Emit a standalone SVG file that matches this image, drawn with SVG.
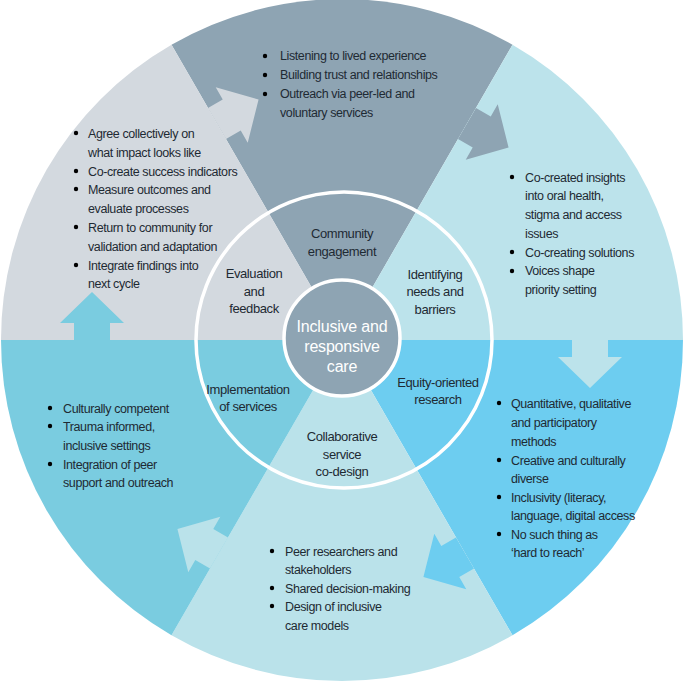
<svg xmlns="http://www.w3.org/2000/svg" width="685" height="681" viewBox="0 0 685 681">
<style>
text{font-family:"Liberation Sans",Arial,sans-serif;font-size:12.5px;letter-spacing:-0.4px;fill:#1e2a33}
.c{text-anchor:middle;font-size:13px}
.w{fill:#ffffff;font-size:16px;text-anchor:middle;letter-spacing:-0.2px}
</style>
<defs>
<path id="arr" d="M-18,0 L-18,-17 L-32,-17 L0,-48 L32,-17 L18,-17 L18,0 Z"/>
</defs>
<rect width="685" height="681" fill="#ffffff"/>
<g id="sectors">
<path d="M342,340 L171.5,44.7 A341,341 0 0 1 512.5,44.7 Z" fill="#8ea4b3"/>
<path d="M342,340 L512.5,44.7 A341,341 0 0 1 683,340 Z" fill="#bce3eb"/>
<path d="M342,340 L683,340 A341,341 0 0 1 512.5,635.3 Z" fill="#6dcdf0"/>
<path d="M342,340 L512.5,635.3 A341,341 0 0 1 171.5,635.3 Z" fill="#bae2ea"/>
<path d="M342,340 L171.5,635.3 A341,341 0 0 1 1,340 Z" fill="#7acce0"/>
<path d="M342,340 L1,340 A341,341 0 0 1 171.5,44.7 Z" fill="#d3d9df"/>
</g>
<g id="connectors">
<use href="#arr" transform="translate(92,340)" fill="#7acce0"/>
<use href="#arr" transform="translate(217,123.5) rotate(60)" fill="#d3d9df"/>
<use href="#arr" transform="translate(467,123.5) rotate(120)" fill="#8ea4b3"/>
<use href="#arr" transform="translate(590,340) rotate(180)" fill="#bce3eb"/>
<use href="#arr" transform="translate(465,553) rotate(240)" fill="#6dcdf0"/>
<use href="#arr" transform="translate(219,553) rotate(300)" fill="#bae2ea"/>
</g>
<circle cx="344" cy="340" r="148" fill="none" stroke="#ffffff" stroke-width="3.5"/>
<g id="center">
<circle cx="342" cy="338" r="58" fill="#8ea4b3" stroke="#ffffff" stroke-width="3.5"/>
<text class="w" x="342" y="332">Inclusive and</text>
<text class="w" x="342" y="352">responsive</text>
<text class="w" x="342" y="372">care</text>
</g>
<g id="community-engagement">
<text class="c" x="342" y="238">Community</text>
<text class="c" x="342" y="256">engagement</text>
<g transform="translate(265,0)">
<circle cx="0" cy="56" r="2.2"/><text x="15" y="60">Listening to lived experience</text>
<circle cx="0" cy="75" r="2.2"/><text x="15" y="79">Building trust and relationships</text>
<circle cx="0" cy="94" r="2.2"/><text x="15" y="98">Outreach via peer-led and</text>
<text x="15" y="117">voluntary services</text>
</g>
</g>
<g id="identifying-needs">
<text class="c" x="435" y="279">Identifying</text>
<text class="c" x="435" y="296">needs and</text>
<text class="c" x="435" y="314">barriers</text>
<g transform="translate(512,0)">
<circle cx="0" cy="177" r="2.2"/><text x="13" y="182">Co-created insights</text>
<text x="13" y="200">into oral health,</text>
<text x="13" y="219">stigma and access</text>
<text x="13" y="238">issues</text>
<circle cx="0" cy="252" r="2.2"/><text x="13" y="257">Co-creating solutions</text>
<circle cx="0" cy="271" r="2.2"/><text x="13" y="275">Voices shape</text>
<text x="13" y="294">priority setting</text>
</g>
</g>
<g id="equity-research">
<text class="c" x="438" y="387">Equity-oriented</text>
<text class="c" x="438" y="404">research</text>
<g transform="translate(499,0)">
<circle cx="0" cy="403" r="2.2"/><text x="12" y="408">Quantitative, qualitative</text>
<text x="12" y="427">and participatory</text>
<text x="12" y="446">methods</text>
<circle cx="0" cy="460" r="2.2"/><text x="12" y="465">Creative and culturally</text>
<text x="12" y="483">diverse</text>
<circle cx="0" cy="497" r="2.2"/><text x="12" y="502">Inclusivity (literacy,</text>
<text x="12" y="520">language, digital access</text>
<circle cx="0" cy="534" r="2.2"/><text x="12" y="539">No such thing as</text>
<text x="12" y="557">‘hard to reach’</text>
</g>
</g>
<g id="co-design">
<text class="c" x="342" y="441">Collaborative</text>
<text class="c" x="342" y="459">service</text>
<text class="c" x="342" y="476">co-design</text>
<g transform="translate(272,0)">
<circle cx="0" cy="551" r="2.2"/><text x="13" y="556">Peer researchers and</text>
<text x="13" y="574">stakeholders</text>
<circle cx="0" cy="588" r="2.2"/><text x="13" y="593">Shared decision-making</text>
<circle cx="0" cy="606" r="2.2"/><text x="13" y="611">Design of inclusive</text>
<text x="13" y="630">care models</text>
</g>
</g>
<g id="implementation">
<text class="c" x="248" y="394">Implementation</text>
<text class="c" x="248" y="411">of services</text>
<g transform="translate(50,0)">
<circle cx="0" cy="408" r="2.2"/><text x="13" y="413">Culturally competent</text>
<circle cx="0" cy="426" r="2.2"/><text x="13" y="431">Trauma informed,</text>
<text x="13" y="450">inclusive settings</text>
<circle cx="0" cy="464" r="2.2"/><text x="13" y="469">Integration of peer</text>
<text x="13" y="487">support and outreach</text>
</g>
</g>
<g id="evaluation">
<text class="c" x="254" y="278">Evaluation</text>
<text class="c" x="254" y="296">and</text>
<text class="c" x="254" y="313">feedback</text>
<g transform="translate(76,0)">
<circle cx="0" cy="133" r="2.2"/><text x="12" y="138">Agree collectively on</text>
<text x="12" y="157">what impact looks like</text>
<circle cx="0" cy="171" r="2.2"/><text x="12" y="176">Co-create success indicators</text>
<circle cx="0" cy="189" r="2.2"/><text x="12" y="194">Measure outcomes and</text>
<text x="12" y="213">evaluate processes</text>
<circle cx="0" cy="227" r="2.2"/><text x="12" y="232">Return to community for</text>
<text x="12" y="251">validation and adaptation</text>
<circle cx="0" cy="265" r="2.2"/><text x="12" y="270">Integrate findings into</text>
<text x="12" y="288">next cycle</text>
</g>
</g>
</svg>
